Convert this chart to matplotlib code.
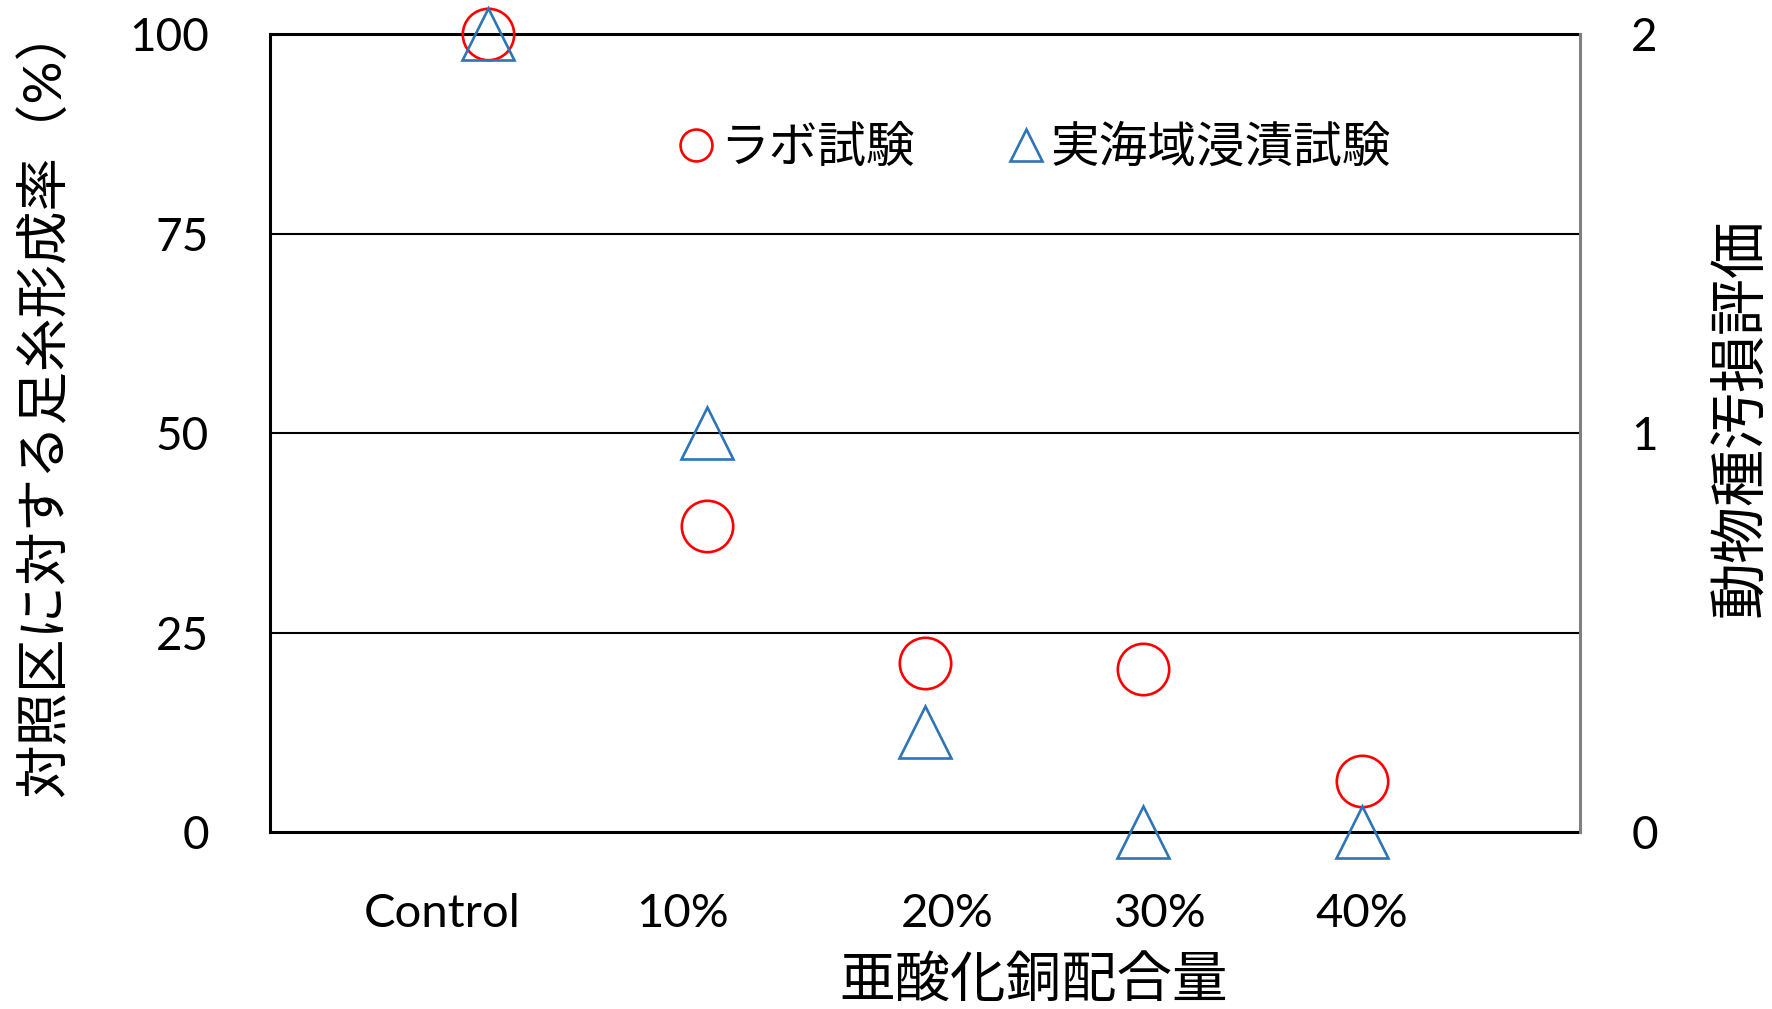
import numpy as np
import matplotlib
matplotlib.use("Agg")
import matplotlib.pyplot as plt

plt.rcParams['font.family'] = ['Lato', 'Noto Sans CJK JP', 'DejaVu Sans']

# =============================================================================
# Data
# =============================================================================
categories = ["Control", "10%", "20%", "30%", "40%"]
x_pos = [1, 2, 3, 4, 5]
# label positions on the x axis (slightly offset from the points)
label_pos = [0.79, 1.89, 3.10, 4.08, 5.0]

lab_rate = [100, 38.4, 21.2, 20.4, 6.4]      # ラボ試験, left axis (%)
field_score = [2.0, 1.0, 0.25, 0.0, 0.0]     # 実海域浸漬試験, right axis

y_ticks = [0, 25, 50, 75, 100]
y2_ticks = [0, 1, 2]

red = "#FF0000"
blue = "#2E75B6"

# =============================================================================
# Plot
# =============================================================================
fig = plt.figure(figsize=(17.72, 10.09), dpi=100)
ax = fig.add_axes([0.1524, 0.1754, 0.7392, 0.7909])
ax2 = ax.twinx()

ax.set_xlim(0, 6)
ax.set_ylim(0, 100)
ax2.set_ylim(0, 2)

for y in y_ticks[1:-1]:
    ax.axhline(y, color="black", lw=1.5, zorder=1)

h1, = ax.plot(x_pos, lab_rate, ls="none", marker="o", ms=37,
              mfc="none", mec=red, mew=1.9, clip_on=False, zorder=3,
              label="ラボ試験")
h2, = ax2.plot(x_pos, field_score, ls="none", marker="^", ms=38,
               mfc="none", mec=blue, mew=1.9, clip_on=False, zorder=3,
               label="実海域浸漬試験")

for s in ["left", "top", "bottom"]:
    ax.spines[s].set_linewidth(2.2)
    ax.spines[s].set_color("black")
ax.spines["right"].set_visible(False)
for s in ["left", "top", "bottom"]:
    ax2.spines[s].set_visible(False)
ax2.spines["right"].set_linewidth(2.2)
ax2.spines["right"].set_color("#808080")

ax.set_yticks(y_ticks)
ax.set_yticklabels([str(v) for v in y_ticks])
ax2.set_yticks(y2_ticks)
ax2.set_yticklabels([str(v) for v in y2_ticks])
ax.set_xticks(label_pos)
ax.set_xticklabels(categories)

ax.tick_params(axis="y", length=0, pad=44, labelsize=33)
ax.tick_params(axis="x", length=0, pad=44, labelsize=34)
ax2.tick_params(axis="y", length=0, pad=37, labelsize=33)

ax.set_xlabel("亜酸化銅配合量", fontsize=40)
ax.xaxis.label.set_va("center")
ax.xaxis.set_label_coords(0.583, -0.188)

ax.set_ylabel("対照区に対する足糸形成率（%）", fontsize=38.5)
ax.yaxis.label.set_va("center")
ax.yaxis.set_label_coords(-0.173, 0.54)

ax2.set_ylabel("動物種汚損評価", fontsize=41, rotation=90)
ax2.yaxis.label.set_va("center")
ax2.yaxis.set_label_coords(1.122, 0.52)

ax2.legend(handles=[h1, h2], loc="center", bbox_to_anchor=(0.583, 0.858),
           ncol=2, frameon=False, fontsize=35, markerscale=0.62,
           handlelength=0.8, handletextpad=0.1, columnspacing=1.9)

fig.savefig("out.png", dpi=100)
